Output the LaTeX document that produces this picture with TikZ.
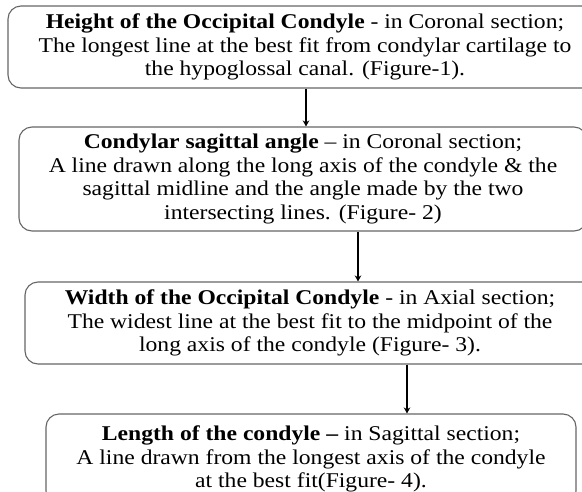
\documentclass[tikz,border=0pt]{standalone}
\usepackage{fontspec}
\setmainfont[FakeStretch=1.125]{Liberation Serif}
\usetikzlibrary{arrows.meta}
\begin{document}
\begin{tikzpicture}[x=1pt,y=-1pt,
  stepbox/.style={draw=black!60,line width=1.1pt,rounded corners=13pt,align=center,
    inner sep=0pt,font=\fontsize{21}{23.5}\selectfont},
  arr/.style={line width=1.8pt,-{Stealth[length=6pt,width=6.5pt]}}]
\useasboundingbox (0,0) rectangle (582,491);
\fill[white] (0,0) rectangle (582,491);
\node[stepbox,minimum width=594pt,minimum height=82pt] (b1) at (305,47)
  {\textbf{Height of the Occipital Condyle} - in Coronal section;\\
   The longest line at the best fit from condylar cartilage to\\
   the hypoglossal canal. (Figure-1).};
\node[stepbox,minimum width=568pt,minimum height=104pt] (b2) at (303,179)
  {\textbf{Condylar sagittal angle} – in Coronal section;\\
   A line drawn along the long axis of the condyle \& the\\
   sagittal midline and the angle made by the two\\
   intersecting lines. (Figure- 2)};
\node[stepbox,minimum width=570pt,minimum height=82pt] (b3) at (310,323)
  {\textbf{Width of the Occipital Condyle} - in Axial section;\\
   The widest line at the best fit to the midpoint of the\\
   long axis of the condyle (Figure- 3).};
\node[stepbox,minimum width=530pt,minimum height=90pt] (b4) at (311,459)
  {\textbf{Length of the condyle –} in Sagittal section;\\
   A line drawn from the longest axis of the condyle\\
   at the best fit(Figure- 4).};
\coordinate (a1) at (306,0);
\coordinate (a2) at (358,0);
\coordinate (a3) at (407,0);
\draw[arr] (b1.south -| a1) -- (b2.north -| a1);
\draw[arr] (b2.south -| a2) -- (b3.north -| a2);
\draw[arr] (b3.south -| a3) -- (b4.north -| a3);
\end{tikzpicture}
\end{document}
